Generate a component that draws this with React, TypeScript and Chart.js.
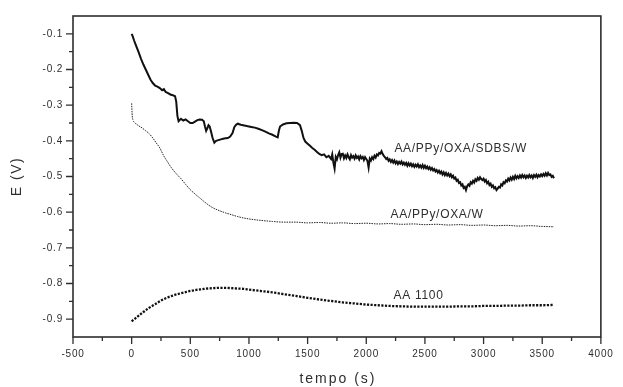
import React, { useEffect, useRef } from 'react';
import { Chart, registerables } from 'chart.js';

Chart.register(...registerables);

// ---- data (time in s, potential in V) ----
const sdbsTime = [0, 10, 20, 40, 60, 80, 100, 120, 140, 160, 180, 200, 220, 240, 260, 275, 290, 310, 330, 350, 370, 380, 390, 400, 420, 440, 460, 480, 500, 520, 540, 560, 580, 600, 615, 625, 635, 645, 655, 665, 675, 690, 705, 720, 740, 760, 780, 800, 820, 840, 860, 875, 890, 905, 930, 960, 990, 1020, 1050, 1080, 1110, 1140, 1170, 1200, 1230, 1245, 1255, 1265, 1290, 1320, 1350, 1380, 1410, 1435, 1450, 1465, 1480, 1500, 1520, 1540, 1560, 1580, 1600, 1620, 1640, 1660, 1680,
  1700, 1710, 1720, 1730, 1740, 1750, 1760, 1770, 1780, 1790,
  1800, 1810, 1820, 1830, 1840, 1850, 1860, 1870, 1880, 1890,
  1900, 1910, 1920, 1930, 1940, 1950, 1960, 1970, 1980, 1990,
  2000, 2010, 2020, 2030, 2040, 2050, 2060, 2070, 2080, 2090,
  2100, 2110, 2120, 2130, 2140, 2150, 2160, 2170, 2180, 2190,
  2200, 2210, 2220, 2230, 2240, 2250, 2260, 2270, 2280, 2290,
  2300, 2310, 2320, 2330, 2340, 2350, 2360, 2370, 2380, 2390,
  2400, 2410, 2420, 2430, 2440, 2450, 2460, 2470, 2480, 2490,
  2500, 2510, 2520, 2530, 2540, 2550, 2560, 2570, 2580, 2590,
  2600, 2610, 2620, 2630, 2640, 2650, 2660, 2670, 2680, 2690,
  2700, 2710, 2720, 2730, 2740, 2750, 2760, 2770, 2780, 2790,
  2800, 2810, 2820, 2830, 2840, 2850, 2860, 2870, 2880, 2890,
  2900, 2910, 2920, 2930, 2940, 2950, 2960, 2970, 2980, 2990,
  3000, 3010, 3020, 3030, 3040, 3050, 3060, 3070, 3080, 3090,
  3100, 3110, 3120, 3130, 3140, 3150, 3160, 3170, 3180, 3190,
  3200, 3210, 3220, 3230, 3240, 3250, 3260, 3270, 3280, 3290,
  3300, 3310, 3320, 3330, 3340, 3350, 3360, 3370, 3380, 3390,
  3400, 3410, 3420, 3430, 3440, 3450, 3460, 3470, 3480, 3490,
  3500, 3510, 3520, 3530, 3540, 3550, 3560, 3570, 3580, 3590,
  3600];
const sdbsPotential = [-0.100, -0.108, -0.118, -0.135, -0.152, -0.170, -0.186, -0.200, -0.214, -0.228, -0.238, -0.245, -0.248, -0.252, -0.258, -0.255, -0.263, -0.266, -0.270, -0.272, -0.275, -0.290, -0.330, -0.345, -0.338, -0.343, -0.340, -0.345, -0.350, -0.350, -0.346, -0.342, -0.340, -0.341, -0.345, -0.360, -0.372, -0.365, -0.356, -0.360, -0.372, -0.392, -0.405, -0.400, -0.398, -0.396, -0.394, -0.393, -0.392, -0.388, -0.378, -0.362, -0.355, -0.352, -0.355, -0.357, -0.359, -0.361, -0.363, -0.366, -0.370, -0.374, -0.379, -0.383, -0.388, -0.390, -0.372, -0.360, -0.354, -0.351, -0.350, -0.349, -0.350, -0.356, -0.372, -0.392, -0.402, -0.408, -0.414, -0.420, -0.425, -0.431, -0.437, -0.440, -0.438, -0.446, -0.442,
  -0.451, -0.438, -0.462, -0.478, -0.445, -0.452, -0.440, -0.432, -0.447, -0.437,
  -0.436, -0.449, -0.441, -0.448, -0.438, -0.446, -0.452, -0.440, -0.447, -0.443,
  -0.450, -0.441, -0.448, -0.444, -0.452, -0.443, -0.449, -0.445, -0.454, -0.446,
  -0.451, -0.456, -0.475, -0.450, -0.455, -0.446, -0.451, -0.442, -0.447, -0.438,
  -0.441, -0.434, -0.436, -0.429, -0.437, -0.442, -0.446, -0.451, -0.448, -0.456,
  -0.452, -0.459, -0.454, -0.461, -0.455, -0.463, -0.458, -0.465, -0.459, -0.464,
  -0.458, -0.466, -0.461, -0.467, -0.462, -0.470, -0.463, -0.469, -0.464, -0.471,
  -0.466, -0.473, -0.467, -0.472, -0.466, -0.474, -0.469, -0.475, -0.468, -0.476,
  -0.470, -0.477, -0.472, -0.479, -0.474, -0.481, -0.476, -0.483, -0.479, -0.486,
  -0.482, -0.489, -0.484, -0.491, -0.486, -0.494, -0.488, -0.496, -0.490, -0.497,
  -0.492, -0.499, -0.494, -0.502, -0.498, -0.506, -0.503, -0.512, -0.509, -0.518,
  -0.516, -0.525, -0.522, -0.532, -0.529, -0.538, -0.527, -0.522, -0.526, -0.516,
  -0.520, -0.512, -0.517, -0.508, -0.512, -0.504, -0.509, -0.502, -0.507, -0.510,
  -0.506, -0.514, -0.510, -0.519, -0.515, -0.524, -0.520, -0.529, -0.525, -0.533,
  -0.530, -0.538, -0.534, -0.529, -0.531, -0.522, -0.525, -0.516, -0.519, -0.511,
  -0.514, -0.506, -0.511, -0.503, -0.509, -0.501, -0.507, -0.498, -0.505, -0.499,
  -0.504, -0.497, -0.503, -0.496, -0.502, -0.497, -0.504, -0.498, -0.503, -0.496,
  -0.502, -0.497, -0.504, -0.496, -0.501, -0.495, -0.502, -0.496, -0.500, -0.494,
  -0.499, -0.493, -0.498, -0.491, -0.497, -0.490, -0.496, -0.494, -0.501, -0.498,
  -0.505];

const oxaTime = [0, 5, 12, 30, 60, 90, 120, 150, 180, 210, 240, 270, 300, 340, 380, 420, 460, 500, 540, 580, 620, 660, 700, 750, 800, 850, 900, 950, 1000, 1100, 1200, 1300, 1400, 1500, 1600, 1700, 1800, 1900, 2000, 2100, 2200, 2300, 2400, 2500, 2600, 2700, 2800, 2900, 3000, 3100, 3200, 3300, 3400, 3500, 3600];
const oxaPotential = [-0.295, -0.330, -0.342, -0.350, -0.358, -0.364, -0.372, -0.380, -0.392, -0.406, -0.420, -0.440, -0.456, -0.476, -0.492, -0.506, -0.522, -0.537, -0.549, -0.560, -0.571, -0.581, -0.589, -0.596, -0.602, -0.607, -0.612, -0.616, -0.619, -0.623, -0.626, -0.628, -0.628, -0.630, -0.629, -0.631, -0.630, -0.632, -0.631, -0.633, -0.632, -0.634, -0.633, -0.635, -0.634, -0.636, -0.635, -0.637, -0.636, -0.638, -0.637, -0.639, -0.638, -0.640, -0.641];

const aaTime = [0, 50, 100, 150, 200, 250, 300, 350, 400, 450, 500, 550, 600, 650, 700, 750, 800, 850, 900, 950, 1000, 1100, 1200, 1300, 1400, 1500, 1600, 1700, 1800, 1900, 2000, 2100, 2200, 2300, 2400, 2500, 2600, 2700, 2800, 2900, 3000, 3100, 3200, 3300, 3400, 3500, 3600];
const aaPotential = [-0.906, -0.893, -0.880, -0.868, -0.858, -0.848, -0.840, -0.834, -0.829, -0.825, -0.821, -0.818, -0.816, -0.814, -0.813, -0.812, -0.812, -0.813, -0.814, -0.815, -0.817, -0.821, -0.825, -0.830, -0.835, -0.840, -0.845, -0.849, -0.853, -0.856, -0.859, -0.861, -0.863, -0.864, -0.865, -0.865, -0.865, -0.865, -0.864, -0.864, -0.863, -0.863, -0.862, -0.862, -0.861, -0.861, -0.860];

const seriesNames = ['AA/PPy/OXA/SDBS/W', 'AA/PPy/OXA/W', 'AA 1100'];
const xTickValues = [-500, 0, 500, 1000, 1500, 2000, 2500, 3000, 3500, 4000];
const yTickValues = [-0.1, -0.2, -0.3, -0.4, -0.5, -0.6, -0.7, -0.8, -0.9];
const xTitle = 'tempo (s)';
const yTitle = 'E (V)';

const toPoints = (t: number[], v: number[]) => t.map((x, i) => ({ x, y: v[i] }));
const midpoints = (vals: number[], step: number) => vals.map((v) => v + step / 2);

const FONT = '"Liberation Sans", Arial, sans-serif';
const INK = '#2e2e2e';

const framePlugin = {
  id: 'frameAndLabels',
  beforeDraw(chart: any) {
    (chart.ctx as any).letterSpacing = '0.8px';
  },
  afterDraw(chart: any) {
    const ctx = chart.ctx as CanvasRenderingContext2D;
    const { left, right, top, bottom } = chart.chartArea;
    const xs = chart.scales.x;
    const ys = chart.scales.y;
    ctx.save();
    (ctx as any).letterSpacing = '0px';
    ctx.strokeStyle = INK;
    ctx.lineWidth = 1.6;
    ctx.strokeRect(left, top, right - left, bottom - top);
    ctx.lineWidth = 1.3;
    ctx.beginPath();
    xTickValues.forEach((v) => {
      const px = xs.getPixelForValue(v);
      ctx.moveTo(px, bottom);
      ctx.lineTo(px, bottom + 7);
    });
    midpoints(xTickValues.slice(0, -1), 500).forEach((v) => {
      const px = xs.getPixelForValue(v);
      ctx.moveTo(px, bottom);
      ctx.lineTo(px, bottom + 4);
    });
    yTickValues.forEach((v) => {
      const py = ys.getPixelForValue(v);
      ctx.moveTo(left, py);
      ctx.lineTo(left - 7, py);
    });
    midpoints(yTickValues.slice(0, -1), -0.1).forEach((v) => {
      const py = ys.getPixelForValue(v);
      ctx.moveTo(left, py);
      ctx.lineTo(left - 4, py);
    });
    ctx.stroke();

    ctx.fillStyle = INK;
    ctx.textAlign = 'center';
    ctx.textBaseline = 'middle';
    ctx.font = `14px ${FONT}`;
    (ctx as any).letterSpacing = '2px';
    ctx.fillText(xTitle, (left + right) / 2 + 1, bottom + 42);
    ctx.save();
    ctx.translate(17, (top + bottom) / 2);
    ctx.rotate(-Math.PI / 2);
    (ctx as any).letterSpacing = '1.5px';
    ctx.fillText(yTitle, 0, 0);
    ctx.restore();

    const anchors = chart.options.plugins.frameAndLabels.anchors as { x: number; y: number }[];
    ctx.font = `12px ${FONT}`;
    (ctx as any).letterSpacing = '0.7px';
    ctx.textAlign = 'left';
    seriesNames.forEach((name, i) => {
      const a = anchors[i];
      ctx.fillText(name, xs.getPixelForValue(a.x), ys.getPixelForValue(a.y));
    });
    ctx.restore();
  },
};

export default function App() {
  const ref = useRef<HTMLCanvasElement | null>(null);
  useEffect(() => {
    document.body.style.margin = '0';
    if (!ref.current) return;
    const chart = new Chart(ref.current, {
      type: 'line',
      data: {
        datasets: [
          {
            label: seriesNames[0],
            data: toPoints(sdbsTime, sdbsPotential),
            borderColor: '#111',
            borderWidth: 2,
            pointRadius: 0,
            tension: 0,
          },
          {
            label: seriesNames[1],
            data: toPoints(oxaTime, oxaPotential),
            borderColor: '#222',
            borderWidth: 1,
            borderDash: [1.5, 1],
            pointRadius: 0,
            cubicInterpolationMode: 'monotone',
          },
          {
            label: seriesNames[2],
            data: toPoints(aaTime, aaPotential),
            borderColor: '#111',
            borderWidth: 2.3,
            borderDash: [2.2, 1.4],
            pointRadius: 0,
            cubicInterpolationMode: 'monotone',
          },
        ],
      },
      options: {
        responsive: false,
        animation: false,
        layout: { padding: { top: 15, right: 14, left: 0, bottom: 0 } },
        plugins: {
          legend: { display: false },
          tooltip: { enabled: false },
          frameAndLabels: {
            anchors: [
              { x: 2240, y: -0.422 },
              { x: 2207, y: -0.607 },
              { x: 2232, y: -0.833 },
            ],
          },
        } as any,
        scales: {
          x: {
            type: 'linear',
            min: -500,
            max: 4000,
            grid: { display: false, drawTicks: false },
            border: { display: false },
            afterBuildTicks: (s: any) => {
              s.ticks = xTickValues.map((value) => ({ value }));
            },
            afterFit: (s: any) => {
              s.height = 50;
            },
            ticks: {
              padding: 11,
              color: INK,
              font: { family: FONT, size: 10 },
              callback: (v: any) => String(v),
              maxRotation: 0,
              autoSkip: false,
            },
          },
          y: {
            type: 'linear',
            min: -0.95,
            max: -0.05,
            grid: { display: false, drawTicks: false },
            border: { display: false },
            afterBuildTicks: (s: any) => {
              s.ticks = yTickValues.map((value) => ({ value }));
            },
            afterFit: (s: any) => {
              s.width = 73;
            },
            ticks: {
              padding: 10,
              color: INK,
              font: { family: FONT, size: 10 },
              callback: (v: any) => Number(v).toFixed(1),
              autoSkip: false,
            },
          },
        },
      },
      plugins: [framePlugin],
    });
    return () => chart.destroy();
  }, []);
  return <canvas ref={ref} width={623} height={387} style={{ display: 'block' }} />;
}
